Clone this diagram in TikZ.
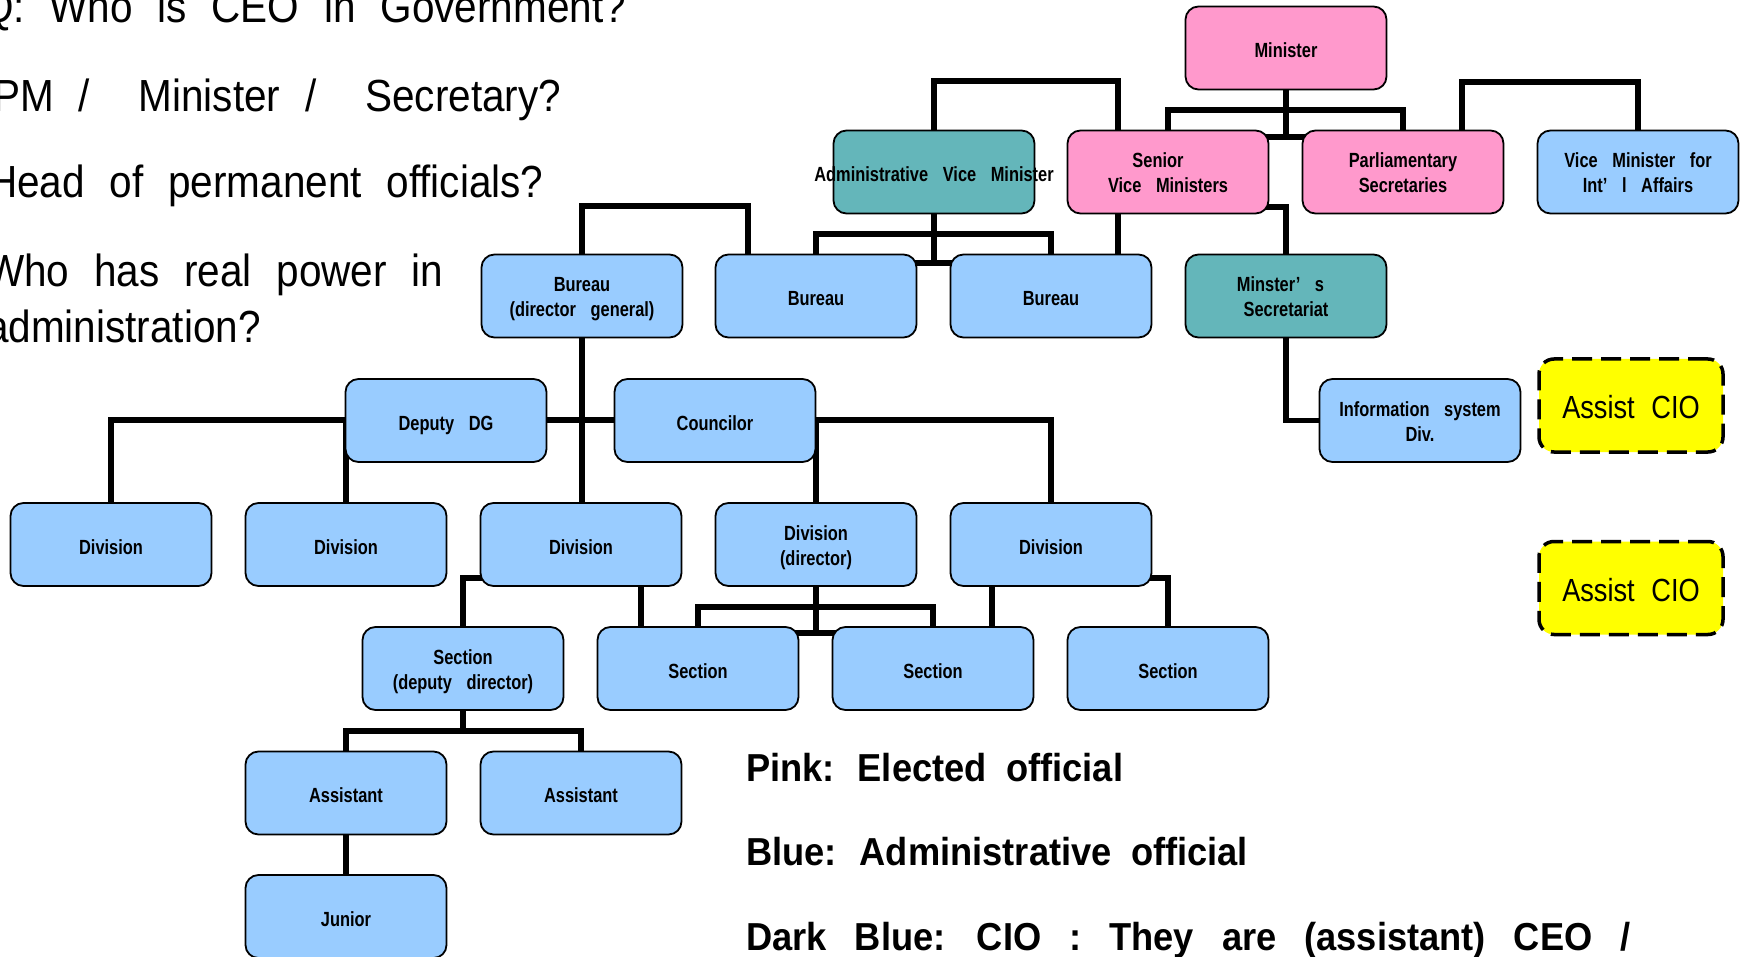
\documentclass[tikz,border=0pt]{standalone}
\usepackage{fontspec}
\setmainfont{Liberation Sans}
% condensed faces with wide word spacing
\newfontfamily\qfont[FakeStretch=0.9,WordSpace=2.2]{Liberation Sans}
\newfontfamily\ciofont[FakeStretch=0.85,WordSpace=2.2]{Liberation Sans}
\newfontfamily\bxfont[FakeStretch=0.8,WordSpace=3.2]{Liberation Sans}
\newfontfamily\lgfont[FakeStretch=0.93]{Liberation Sans}
\usetikzlibrary{backgrounds}

\definecolor{pinkc}{RGB}{255,153,204}
\definecolor{bluec}{RGB}{153,204,255}
\definecolor{tealc}{RGB}{100,182,186}
\definecolor{yellowc}{RGB}{255,255,0}

\begin{document}
\begin{tikzpicture}[x=1pt,y=-1pt,
  box/.style={draw=black, line width=1.8pt, rounded corners=13pt,
    minimum width=201pt, minimum height=83pt, inner sep=0pt, align=center,
    text height=19pt, text depth=0pt,
    font={\bxfont\bfseries\fontsize{20.5}{25}\selectfont}},
  two/.style={text height=42pt, text depth=0pt},
  pinkbox/.style={box, fill=pinkc},
  bluebox/.style={box, fill=bluec},
  tealbox/.style={box, fill=tealc},
  ciobox/.style={draw=black, fill=yellowc, line width=3.5pt, rounded corners=15pt,
    dash pattern=on 20pt off 9pt, minimum width=184pt, minimum height=93pt,
    inner sep=0pt, text height=26pt, text depth=0pt,
    font={\ciofont\fontsize{32}{38}\selectfont}},
  link/.style={draw=black, line width=5.5pt, line join=miter},
  question/.style={anchor=base west, inner sep=0pt, font={\qfont\fontsize{45}{54}\selectfont}},
  legend/.style={anchor=base west, inner sep=0pt,
    font={\lgfont\bfseries\fontsize{39}{47}\selectfont\spaceskip=19.5pt\relax}},
]
\useasboundingbox (0,0) rectangle (1743,957);
\clip (0,0) rectangle (1743,957);

% questions
\node[question] (q1) at (-18,23) {Q: Who is CEO in Government?};
\node[question] (q2) at (-7,112) {PM /\hspace{24pt} Minister /\hspace{24pt} Secretary?};
\node[question] (q3) at (-12,198) {Head of permanent officials?};
\node[question] (q4) at (-14,287) {Who has real power in};
\node[question] (q5) at (-14,343) {administration?};

% legend
\node[legend] (l1) at (746,781) {Pink: Elected official};
\node[legend] (l2) at (746,865) {Blue: Administrative official};
\node[legend] (l3) at (746,950) {\spaceskip=28pt\relax Dark Blue: CIO : They are (assistant) CEO /};

% ministry level
\node[pinkbox] (min) at (1286,48) {Minister};
\node[tealbox] (avm) at (934,172) {\makebox[0pt][c]{Administrative Vice Minister}};
\node[pinkbox, two] (svm) at (1168,172) {\mbox{Senior\hspace{20pt}}\\Vice Ministers};
\node[pinkbox, two] (ps) at (1403,172) {Parliamentary\\Secretaries};
\node[bluebox, two] (vmia) at (1638,172) {Vice Minister for\\Int’ l Affairs};

% bureaus
\node[bluebox, two] (bdg) at (582,296) {Bureau\\(director general)};
\node[bluebox] (bu2) at (816,296) {Bureau};
\node[bluebox] (bu3) at (1051,296) {Bureau};
\node[tealbox, two] (sec) at (1286,296) {\mbox{Minster’ s\hspace{11pt}}\\Secretariat};

\node[bluebox] (ddg) at (446,420.5) {Deputy DG};
\node[bluebox] (cou) at (715,420.5) {Councilor};
\node[bluebox, two] (isd) at (1420,420.5) {Information system\\Div.};
\node[ciobox] (cio1) at (1631,405.5) {Assist CIO};
\node[ciobox] (cio2) at (1631,588) {Assist CIO};

% divisions
\node[bluebox] (d1) at (111,544.5) {Division};
\node[bluebox] (d2) at (346,544.5) {Division};
\node[bluebox] (d3) at (581,544.5) {Division};
\node[bluebox, two] (ddir) at (816,544.5) {Division\\(director)};
\node[bluebox] (d5) at (1051,544.5) {Division};

% sections
\node[bluebox, two] (sdd) at (463,668.5) {Section\\(deputy director)};
\node[bluebox] (s2) at (698,668.5) {Section};
\node[bluebox] (s3) at (933,668.5) {Section};
\node[bluebox] (s4) at (1168,668.5) {Section};

\node[bluebox] (a1) at (346,793) {Assistant};
\node[bluebox] (a2) at (581,793) {Assistant};
\node[bluebox] (jun) at (346,916.5) {Junior};

% bend points of the connectors
\coordinate (t1) at (1118,81);
\coordinate (m1) at (1286,110);
\coordinate (m2) at (1286,137);
\coordinate (m3) at (1230,207);
\coordinate (m4) at (1340,137);
\coordinate (m5) at (1286,207);
\coordinate (t2) at (1462,82);
\coordinate (a0) at (934,234);
\coordinate (a3) at (934,263);
\coordinate (a4) at (880,263);
\coordinate (a5) at (990,263);
\coordinate (t3) at (748,206);
\coordinate (h1) at (111,420);
\coordinate (e1) at (520,578);
\coordinate (e2) at (641,570);
\coordinate (f1) at (816,607);
\coordinate (f2) at (816,633);
\coordinate (f3) at (780,633);
\coordinate (f4) at (850,633);
\coordinate (e3) at (992,570);
\coordinate (e4) at (1130,578);
\coordinate (g1) at (464,731);

\begin{scope}[on background layer]
  % minister level
  \draw[link] (avm.north) |- (t1) -- (t1 |- svm.north);
  \draw[link] (min.south) -- (m1);
  \draw[link] (svm.north) |- (m1) -| (ps.north);
  \draw[link] (m1) -- (m2) -| (m3) -- (m5) -- (sec.north);
  \draw[link] (m2) -- (m4);
  \draw[link] (t2 |- ps.north) -- (t2) -| (vmia.north);
  \draw[link] (svm.south -| t1) -- (t1 |- bu3.north);
  % administrative vice minister
  \draw[link] (avm.south) -- (a0) -- (a3);
  \draw[link] (bu2.north) |- (a0) -| (bu3.north);
  \draw[link] (a4) -- (a5);
  % bureau (director general)
  \draw[link] (bdg.north) |- (t3) -- (t3 |- bu2.north);
  \draw[link] (bdg.south) -- (bdg.south |- d3.north);
  \draw[link] (d1.north) -- (h1) -- (h1 -| d5.north) -- (d5.north);
  \draw[link] (ddg.center -| d2.north) -- (d2.north);
  \draw[link] (cou.center -| ddir.north) -- (ddir.north);
  % divisions to sections
  \draw[link] (e1) -| (sdd.north);
  \draw[link] (e2) -- (e2 |- s2.north);
  \draw[link] (ddir.south) -- (f1) -- (f2);
  \draw[link] (s2.north) |- (f1) -| (s3.north);
  \draw[link] (f3) -- (f4);
  \draw[link] (e3) -- (e3 |- s3.north);
  \draw[link] (e4) -| (s4.north);
  % secretariat
  \draw[link] (sec.south) |- (isd.west);
  % section to assistants
  \draw[link] (sdd.south) -- (sdd.south |- g1);
  \draw[link] (a1.north) |- (g1) -| (a2.north);
  \draw[link] (a1.south) -- (jun.north);
\end{scope}
\end{tikzpicture}
\end{document}
